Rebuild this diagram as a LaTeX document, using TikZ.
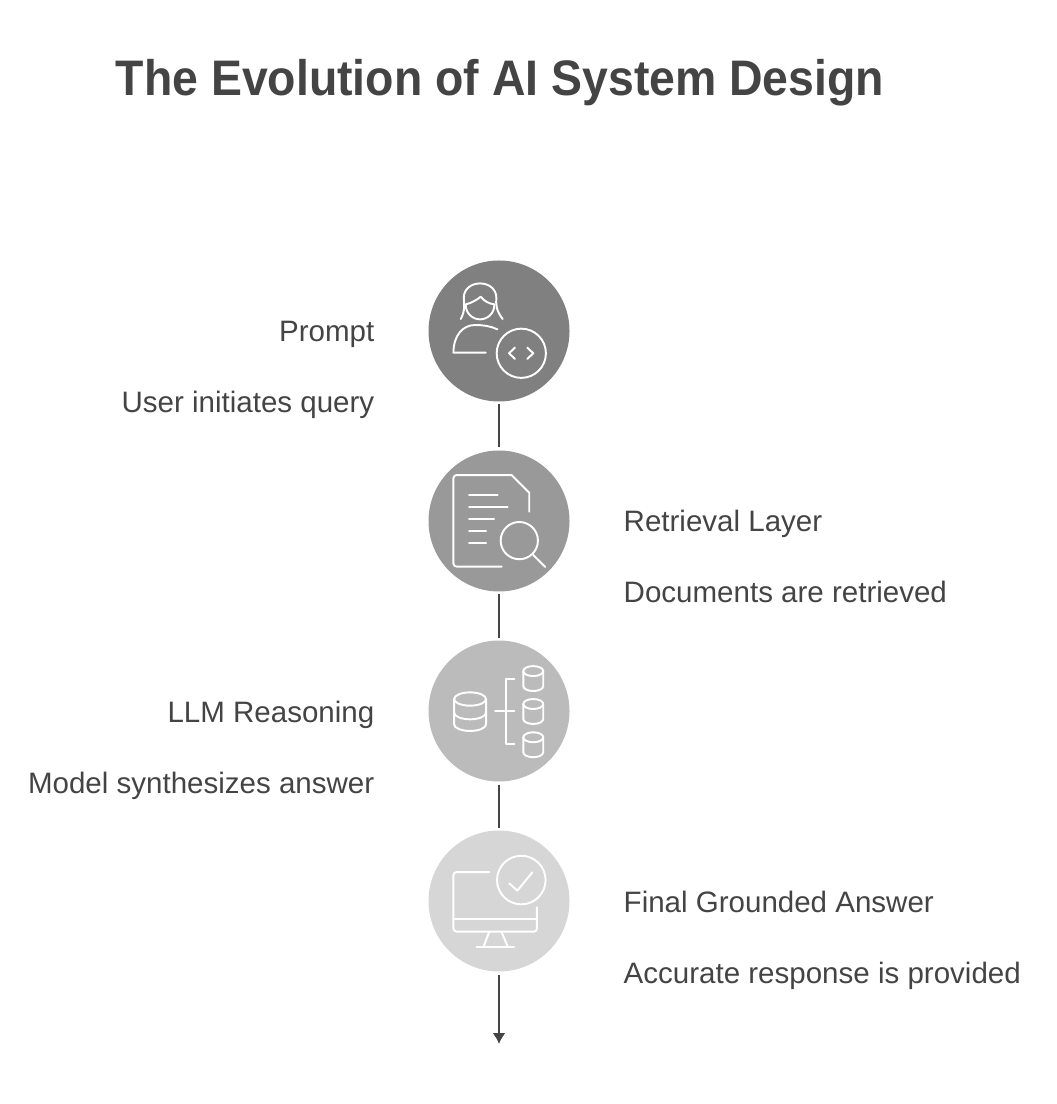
\documentclass[tikz,border=0pt]{standalone}
\usepackage{xcolor}
\usepackage{fontspec}
\setmainfont{Liberation Sans}
\newfontfamily\titlefont[FakeStretch=.93]{Liberation Sans}
\usetikzlibrary{arrows.meta}
\definecolor{inkgrey}{HTML}{444444}
\definecolor{promptgrey}{HTML}{808080}
\definecolor{retrievalgrey}{HTML}{999999}
\definecolor{reasoninggrey}{HTML}{BBBBBB}
\definecolor{answergrey}{HTML}{D6D6D6}

\begin{document}
\begin{tikzpicture}[>=Latex,x=1cm,y=-1cm,text=inkgrey,
    stepdot/.style={circle,minimum size=1.41cm,inner sep=0pt,outer sep=.03cm},
    link/.style={draw=inkgrey,line width=.55pt},
    label/.style={inner sep=0pt,font=\fontsize{8.4}{10}\selectfont},
    icon/.style={shift={(#1.center)},x=.00333cm,y=-.00333cm,draw=white,line width=.55pt,line cap=round,line join=round}]
    \useasboundingbox (0,0) rectangle (10.56,11.04);
    \node[anchor=base west,inner sep=0pt,font=\titlefont\fontsize{14.2}{16}\selectfont\bfseries] (title) at (1.15,.96) {The Evolution of AI System Design};

    \node[stepdot,fill=promptgrey] (prompt) at (4.99,3.31) {};
    \node[stepdot,fill=retrievalgrey] (retrieval) at (4.99,5.21) {};
    \node[stepdot,fill=reasoninggrey] (reasoning) at (4.99,7.11) {};
    \node[stepdot,fill=answergrey] (answer) at (4.99,9.01) {};
    \coordinate (end) at (4.99,10.44);
    \draw[link] (prompt)--(retrieval);
    \draw[link] (retrieval)--(reasoning);
    \draw[link] (reasoning)--(answer);
    \draw[link,-{Latex[length=.11cm,width=.13cm]}] (answer)--(end);

    \node[label,anchor=base east] (promptname) at (3.75,3.42) {Prompt};
    \node[label,anchor=base east] (promptdesc) at (3.75,4.13) {User initiates query};
    \node[label,anchor=base west] (retrievalname) at (6.23,5.32) {Retrieval Layer};
    \node[label,anchor=base west] (retrievaldesc) at (6.23,6.03) {Documents are retrieved};
    \node[label,anchor=base east] (reasoningname) at (3.75,7.22) {LLM Reasoning};
    \node[label,anchor=base east] (reasoningdesc) at (3.75,7.93) {Model synthesizes answer};
    \node[label,anchor=base west] (answername) at (6.23,9.12) {Final Grounded Answer};
    \node[label,anchor=base west] (answerdesc) at (6.23,9.83) {Accurate response is provided};

    % person with code badge
    \begin{scope}[icon=prompt]
      \draw (-100,-78) arc[start angle=180,end angle=0,radius=43];
      \draw (-115,-36) .. controls (-102,-60) and (-104,-80) .. (-106,-100) .. controls (-106,-125) and (-85,-143) .. (-57,-143) .. controls (-29,-143) and (-8,-125) .. (-8,-100) .. controls (-10,-80) and (-8,-60) .. (11,-36);
      \draw (-100,-80) .. controls (-80,-85) and (-65,-95) .. (-55,-103) .. controls (-45,-90) and (-30,-82) .. (-14,-80);
      \draw (-40,65) -- (-137,65) .. controls (-137,15) and (-110,-18) .. (-72,-18) .. controls (-50,-18) and (-25,-15) .. (-5,-5);
      \draw (67,67) circle (74);
      \draw (48,50) -- (30,67) -- (48,84);
      \draw (85,50) -- (103,67) -- (85,84);
    \end{scope}

    % page and magnifier
    \begin{scope}[icon=retrieval]
      \draw[rounded corners=.03cm] (8,137) -- (-137,137) -- (-137,-138) -- (38,-138);
      \draw (38,-138) -- (91,-85) -- (91,-28);
      \draw (-90,-78) -- (-4,-78);
      \draw (-90,-42) -- (26,-42);
      \draw (-90,-6) -- (-15,-6);
      \draw (-90,29) -- (-39,29);
      \draw (-90,65) -- (-39,65);
      \draw (61,59) circle (56);
      \draw (103,102) -- (139,138);
    \end{scope}

    % one database split in three
    \begin{scope}[icon=reasoning]
      \draw (-87,-36) ellipse (48 and 20);
      \draw (-135,-36) -- (-135,40) arc[start angle=180,end angle=0,x radius=48,y radius=20] -- (-39,-36);
      \draw (-135,5) arc[start angle=180,end angle=0,x radius=48,y radius=20];
      \draw (-12,0) -- (46,0);
      \draw (46,-97) -- (20,-97) -- (20,100) -- (46,100);
      \draw (103,-120) ellipse (30 and 15);
      \draw (73,-120) -- (73,-75) arc[start angle=180,end angle=0,x radius=30,y radius=15] -- (133,-120);
      \draw (103,-21) ellipse (30 and 15);
      \draw (73,-21) -- (73,24) arc[start angle=180,end angle=0,x radius=30,y radius=15] -- (133,-21);
      \draw (103,79) ellipse (30 and 15);
      \draw (73,79) -- (73,124) arc[start angle=180,end angle=0,x radius=30,y radius=15] -- (133,79);
    \end{scope}

    % monitor with check mark
    \begin{scope}[icon=answer]
      \draw (67,-63) circle (73);
      \draw (31,-53) -- (55,-31) -- (100,-86);
      \draw[rounded corners=.03cm] (-29,-87) -- (-137,-87) -- (-137,92) -- (114,92) -- (114,19);
      \draw (-137,55) -- (114,55);
      \draw (-30,94) -- (-47,139);
      \draw (8,94) -- (27,139);
      \draw (-67,139) -- (45,139);
    \end{scope}
  \end{tikzpicture}
\end{document}
